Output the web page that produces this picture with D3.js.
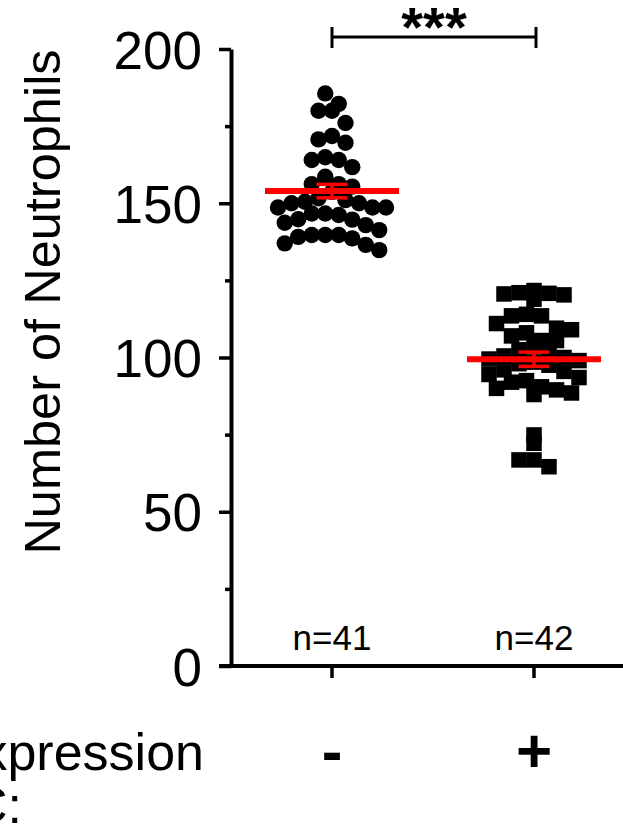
<!DOCTYPE html>
<html>
<head>
<meta charset="utf-8">
<script src="https://cdn.jsdelivr.net/npm/d3@7"></script>
<style>
  html, body { margin: 0; padding: 0; background: #fff; }
  svg { display: block; }
  text { font-family: "Liberation Sans", Arial, sans-serif; fill: #000; }
</style>
</head>
<body>
<svg id="chart" width="623" height="828"></svg>
<script>
// Groups on the x axis
const categories = ["-", "+"];
const groupN = ["n=41", "n=42"];

// Neutrophil counts per group
const negValues = [
  185.6, 182.2, 180, 180, 176, 171.8, 170.7, 169.6,
  164.9, 164, 164, 161.7, 158.6, 156.2, 156.2, 155.4,
  153.7, 151.6, 151, 150.5, 150, 150, 148.6, 148.6, 148.6, 146.7,
  146.7, 146.2, 144.8, 144.7, 143.7, 142.9, 141.3,
  139.7, 139.7, 139.7, 139.1, 138.6, 137, 136.5, 134.8
];
const posValues = [
  121.7, 121, 120.8, 120.6, 120.3, 118.9,
  114, 113.5, 113.5, 111, 109.5, 109, 108,
  107, 105.5, 105.5, 103.5, 102.5,
  101.5, 100.5, 100, 99.5, 99, 98.5, 98, 97.5,
  96, 95.5, 94.5, 93.5, 92.5, 92,
  90.5, 90, 89.5, 88.5, 88,
  74.9, 72.2, 66.8, 66.8, 64.6
];

const yMajorTicks = [0, 50, 100, 150, 200];
const yMinorTicks = [25, 75, 125, 175];

const svg = d3.select("#chart");

const y = d3.scaleLinear().domain([0, 200]).range([666, 49]);
const x = d3.scaleBand().domain(categories).range([231, 635]);
const cx = c => x(c) + x.bandwidth() / 2;

// ---- Y axis ----
svg.append("g").attr("transform", "translate(231,0)")
  .call(d3.axisLeft(y).tickValues(yMajorTicks).tickSize(12).tickSizeOuter(0).tickPadding(17))
  .call(g => g.select(".domain").attr("stroke-width", 4))
  .call(g => g.selectAll(".tick line").attr("stroke-width", 3.5))
  .call(g => g.selectAll(".tick text")
    .style("font-size", "53px").attr("dy", "0.36em"));
svg.append("g").attr("transform", "translate(231,0)")
  .call(d3.axisLeft(y).tickValues(yMinorTicks).tickSize(6).tickFormat(""))
  .call(g => g.select(".domain").remove())
  .call(g => g.selectAll(".tick line").attr("stroke-width", 3.5));

// ---- X axis ----
svg.append("line")
  .attr("x1", 219).attr("x2", 623)
  .attr("y1", y(0)).attr("y2", y(0))
  .attr("stroke", "#000").attr("stroke-width", 4);
svg.append("g").attr("transform", `translate(0,${y(0)})`)
  .call(d3.axisBottom(x).tickSize(12))
  .call(g => g.select(".domain").remove())
  .call(g => g.selectAll(".tick line").attr("stroke-width", 3.5))
  .call(g => g.selectAll(".tick text")
    .attr("y", 106).attr("dy", 0)
    .style("font-size", "62px").style("font-weight", "bold"));

// Axis title
svg.append("text")
  .attr("transform", "translate(60,302) rotate(-90)")
  .attr("text-anchor", "middle")
  .style("font-size", "50.5px")
  .text("Number of Neutrophils");

// Row title for the x categories
svg.append("text").attr("x", 204).attr("y", 770)
  .attr("text-anchor", "end").style("font-size", "52px").text("Expression");
svg.append("text").attr("x", 22).attr("y", 823)
  .attr("text-anchor", "end").style("font-size", "52px").text("C:");

// ---- Row-binned scatter layout ----
// Values are grouped into horizontal rows; points in a row are spread
// side by side, each keeping its own y value.
function rowLayout(values, binSize, spacing) {
  const bins = d3.bin().thresholds(d3.range(0, 210, binSize)).domain([0, 210])(values);
  const pts = [];
  bins.forEach(b => {
    const vals = b.slice().sort((a, c) => c - a);
    const n = vals.length;
    // slots from left to right, filled middle-out
    const slots = d3.range(n).map(i => (i - (n - 1) / 2) * spacing);
    const mid = Math.floor((n - 1) / 2);
    const order = [];
    for (let k = 0; order.length < n; k++) {
      const a = mid + k, c = mid - k - 1;
      if (a < n) order.push(a);
      if (c >= 0 && order.length < n) order.push(c);
    }
    vals.forEach((v, i) => pts.push({ v, py: y(v), dx: slots[order[i]] }));
  });
  return pts;
}

const negPts = rowLayout(negValues, 7, 13.5);
const posPts = rowLayout(posValues, 16 / 3.085, 15);

svg.append("g").selectAll("circle").data(negPts).join("circle")
  .attr("cx", d => cx("-") + d.dx)
  .attr("cy", d => d.py)
  .attr("r", 8.2)
  .attr("fill", "#000");

const sq = 15.5;
svg.append("g").selectAll("rect").data(posPts).join("rect")
  .attr("x", d => cx("+") + d.dx - sq / 2)
  .attr("y", d => d.py - sq / 2)
  .attr("width", sq).attr("height", sq)
  .attr("fill", "#000");

// ---- Mean ± SEM ----
function stats(vals) {
  const m = d3.mean(vals);
  const sem = d3.deviation(vals) / Math.sqrt(vals.length);
  return { m, sem };
}
[[categories[0], negValues], [categories[1], posValues]].forEach(([c, vals]) => {
  const { m, sem } = stats(vals);
  const g = svg.append("g").attr("stroke", "#ff0000");
  const xc = cx(c);
  g.append("line").attr("x1", xc).attr("x2", xc)
    .attr("y1", y(m + sem)).attr("y2", y(m - sem)).attr("stroke-width", 3.5);
  [m + sem, m - sem].forEach(v => {
    g.append("line").attr("x1", xc - 15.5).attr("x2", xc + 15.5)
      .attr("y1", y(v)).attr("y2", y(v)).attr("stroke-width", 3.5);
  });
  g.append("line").attr("x1", xc - 67).attr("x2", xc + 67)
    .attr("y1", y(m)).attr("y2", y(m)).attr("stroke-width", 6);
});

// Sample sizes
svg.append("g").selectAll("text").data(categories).join("text")
  .attr("x", d => cx(d)).attr("y", 650)
  .attr("text-anchor", "middle").style("font-size", "35px")
  .text((d, i) => groupN[i]);

// Significance bracket
const bx1 = cx(categories[0]), bx2 = cx(categories[1]) + 2;
const br = svg.append("g").attr("stroke", "#000").attr("stroke-width", 3);
br.append("line").attr("x1", bx1).attr("x2", bx2).attr("y1", 37).attr("y2", 37);
br.append("line").attr("x1", bx1).attr("x2", bx1).attr("y1", 27).attr("y2", 48);
br.append("line").attr("x1", bx2).attr("x2", bx2).attr("y1", 27).attr("y2", 48);
svg.append("text").attr("x", (bx1 + bx2) / 2).attr("y", 46)
  .attr("text-anchor", "middle").style("font-size", "56px").style("font-weight", "bold")
  .text("***");
</script>
</body>
</html>
